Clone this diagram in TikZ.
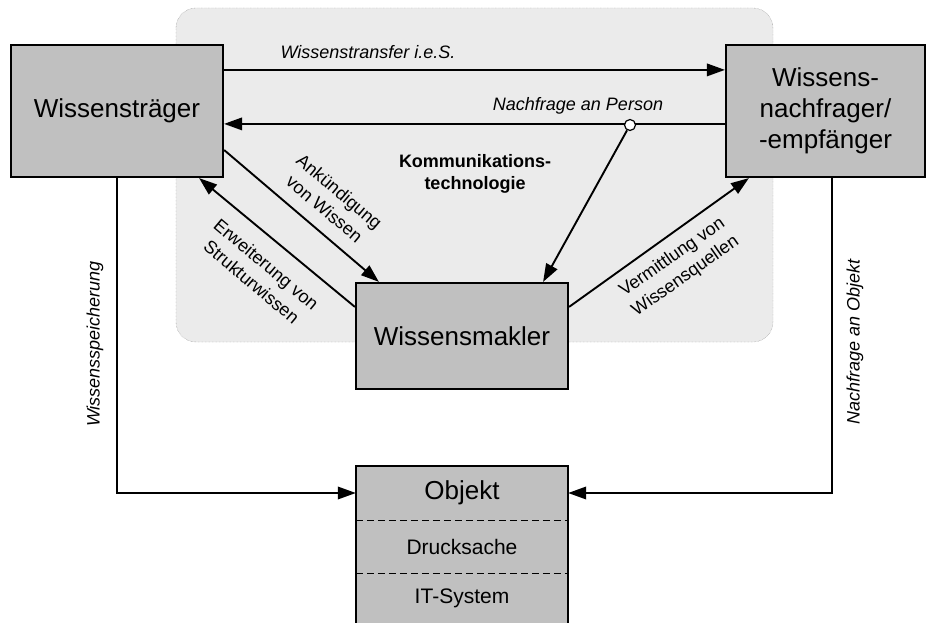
\documentclass[tikz,border=0pt]{standalone}
\usepackage{fontspec}
\setmainfont{Liberation Sans}
\usetikzlibrary{arrows.meta}
\definecolor{boxgray}{HTML}{C0C0C0}
\definecolor{techbg}{HTML}{EBEBEB}
\definecolor{techline}{HTML}{7A7A7A}
\begin{document}
\begin{tikzpicture}[x=1pt,y=-1pt,
  box/.style={draw=black, line width=2.2pt, fill=boxgray, inner sep=0pt,
    align=center, font=\fontsize{26}{31}\selectfont},
  cell/.style={fill=boxgray, inner sep=0pt, minimum width=212pt},
  conn/.style={line width=1.9pt, -{Triangle[length=18pt,width=12.5pt]}},
  lbl/.style={font=\fontsize{18}{23}\selectfont, align=center, inner sep=0pt},
  ilbl/.style={font=\fontsize{18}{21}\selectfont\itshape, align=center, inner sep=0pt},
]
\useasboundingbox (0,0) rectangle (927,623);

% communication technology area
\draw[techline, densely dotted, fill=techbg, rounded corners=20pt] (176,8) rectangle (773,342);
\node[font=\fontsize{18}{22}\selectfont\bfseries, align=center] (kt) at (475,174) {Kommunikations-\\technologie};

% actors
\node[box, minimum width=212pt, minimum height=132pt] (wt) at (117,111) {Wissensträger};
\node[box, minimum width=199pt, minimum height=132pt] (wn) at (825.5,111) {Wissens-\\nachfrager/\\-empfänger};
\node[box, minimum width=212pt, minimum height=106pt] (wm) at (462,336) {Wissensmakler};

% object with its two forms
\node[cell, minimum height=54pt, font=\fontsize{26}{31}\selectfont] (ohead) at (462,493) {Objekt};
\node[cell, minimum height=53pt, font=\fontsize{21}{25}\selectfont] (odruck) at (462,546.5) {Drucksache};
\node[cell, minimum height=51pt, font=\fontsize{21}{25}\selectfont] (oit) at (462,598.5) {IT-System};
\draw[line width=2.2pt] (ohead.north west) rectangle (oit.south east);
\draw[dash pattern=on 7pt off 4pt, line width=1.3pt] (ohead.south west) -- (ohead.south east);
\draw[dash pattern=on 7pt off 4pt, line width=1.3pt] (odruck.south west) -- (odruck.south east);

% direct transfer and request
\draw[conn] ([yshift=-26pt]wt.north east) -- ([yshift=-26pt]wn.north west);
\node[ilbl] (ltr) at (368,52) {Wissenstransfer i.e.S.};
\draw[conn] ([yshift=-80pt]wn.north west) -- ([yshift=-80pt]wt.north east);
\node[ilbl] (lnp) at (578,106) {Nachfrage an Person};
\node[circle, draw, fill=white, line width=1.2pt, minimum size=11pt, inner sep=0pt] (jn) at (630,125) {};
\draw[conn] (jn) -- ([xshift=-26pt]wm.north east);

% broker links
\draw[conn] ([yshift=-39pt]wt.east) -- ([xshift=24pt]wm.north west);
\node[lbl, rotate=-40] (lan) at (332,200) {Ankündigung\\von Wissen};
\draw[conn] ([yshift=-25pt]wm.north west) -- ([xshift=-25pt]wt.south east);
\node[lbl, rotate=-40] (ler) at (259,273) {Erweiterung von\\Strukturwissen};
\draw[conn] ([yshift=-25pt]wm.north east) -- ([xshift=24pt]wn.south west);
\node[lbl, rotate=35] (lve) at (679,267) {Vermittlung von\\Wissensquellen};

% storage and request of objects
\draw[conn] (wt.south) |- (ohead.west);
\node[ilbl, rotate=90] (lws) at (95,344) {Wissensspeicherung};
\draw[conn] ([xshift=6.5pt]wn.south) |- (ohead.east);
\node[ilbl, rotate=90] (lno) at (855,342) {Nachfrage an Objekt};
\end{tikzpicture}
\end{document}
